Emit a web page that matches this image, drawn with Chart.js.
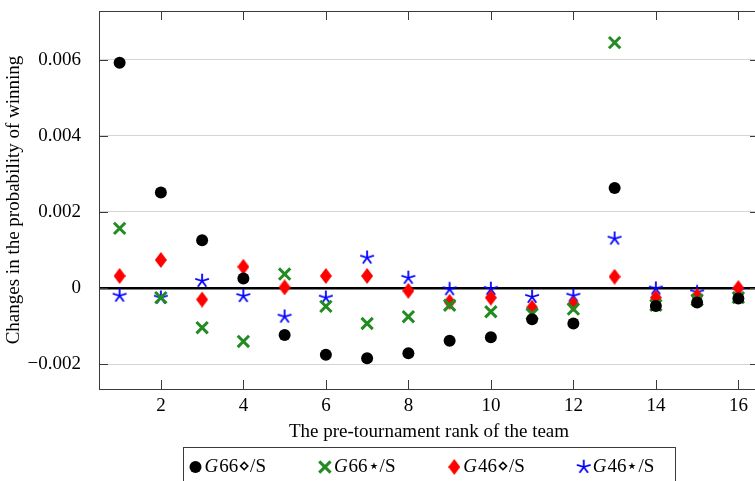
<!DOCTYPE html>
<html>
<head>
<meta charset="utf-8">
<script src="https://cdn.jsdelivr.net/npm/chart.js@4.4.1/dist/chart.umd.min.js"></script>
<style>
  html, body { margin: 0; padding: 0; overflow: hidden; background: #fff; }
  #wrap { width: 770px; height: 481px; }
</style>
</head>
<body>
<div id="wrap"><canvas id="rankChart"></canvas></div>
<script>
// pre-tournament ranks
const ranks = [1, 2, 3, 4, 5, 6, 7, 8, 9, 10, 11, 12, 13, 14, 15, 16];

// changes in the probability of winning
const g66Diamond = [0.00592, 0.00251, 0.00126, 0.00025, -0.00123, -0.00175, -0.00184, -0.00171,
  -0.00138, -0.00129, -0.00082, -0.00093, 0.00263, -0.00047, -0.00038, -0.00027];
const g66Star = [0.00157, -0.00025, -0.00104, -0.0014, 0.00037, -0.00048, -0.00093, -0.00075,
  -0.00045, -0.00062, -0.00068, -0.00055, 0.00645, -0.00045, -0.00031, -0.00025];
const g46Diamond = [0.00032, 0.00074, -0.0003, 0.00056, 0.00002, 0.00032, 0.00032, -0.00007,
  -0.00036, -0.00025, -0.00051, -0.00042, 0.0003, -0.00025, -0.00021, 0.0];
const g46Star = [-0.0002, -0.00025, 0.00019, -0.00021, -0.00075, -0.00025, 0.0008, 0.00027,
  -0.00003, -0.00002, -0.00023, -0.0002, 0.0013, -0.00001, -0.00011, -0.00005];

const seriesNames = ['66\u22C4/S', '66\u22C6/S', '46\u22C4/S', '46\u22C6/S'];

const xTicks = [2, 4, 6, 8, 10, 12, 14, 16];
const yTicks = [-0.002, 0, 0.002, 0.004, 0.006];

const serif = "'Liberation Serif', 'DejaVu Serif', serif";

// marker shapes that Chart.js does not have
function diamondMark(color) {
  const c = document.createElement('canvas');
  c.width = 12; c.height = 16;
  const g = c.getContext('2d');
  g.fillStyle = color;
  g.beginPath();
  g.moveTo(6, 0); g.lineTo(12, 8); g.lineTo(6, 16); g.lineTo(0, 8);
  g.closePath();
  g.fill();
  return c;
}

function starMark(color) {
  const c = document.createElement('canvas');
  c.width = 16; c.height = 16;
  const g = c.getContext('2d');
  g.strokeStyle = color;
  g.lineWidth = 1.8;
  g.beginPath();
  for (let i = 0; i < 5; i++) {
    const a = -Math.PI / 2 + i * 2 * Math.PI / 5;
    g.moveTo(8, 8);
    g.lineTo(8 + 7.2 * Math.cos(a), 8 + 7.2 * Math.sin(a));
  }
  g.stroke();
  return c;
}

function toPoints(values) {
  return ranks.map((r, i) => ({ x: r, y: values[i] }));
}

const datasets = [
  { label: seriesNames[0], data: toPoints(g66Diamond), pointStyle: 'circle', pointRadius: 6,
    backgroundColor: '#000', borderColor: '#000', borderWidth: 0 },
  { label: seriesNames[1], data: toPoints(g66Star), pointStyle: 'crossRot', pointRadius: 8,
    backgroundColor: '#228b22', borderColor: '#228b22', borderWidth: 3 },
  { label: seriesNames[2], data: toPoints(g46Diamond), pointStyle: diamondMark('#ff0000'), pointRadius: 7,
    backgroundColor: '#ff0000', borderColor: '#ff0000' },
  { label: seriesNames[3], data: toPoints(g46Star), pointStyle: starMark('#0000ff'), pointRadius: 7,
    backgroundColor: '#0000ff', borderColor: '#0000ff' }
];

// axis box with inward ticks, like the pgfplots original
const framePlugin = {
  id: 'frame',
  afterDatasetsDraw(chart) {
    const { ctx, chartArea: a, scales } = chart;
    ctx.save();
    ctx.strokeStyle = '#3a3a3a';
    ctx.lineWidth = 1;
    ctx.beginPath();
    xTicks.forEach(v => {
      const px = Math.round(scales.x.getPixelForValue(v)) + 0.5;
      ctx.moveTo(px, a.top); ctx.lineTo(px, a.top + 9);
      ctx.moveTo(px, a.bottom); ctx.lineTo(px, a.bottom - 9);
    });
    yTicks.forEach(v => {
      const py = Math.round(scales.y.getPixelForValue(v)) + 0.5;
      ctx.moveTo(a.left, py); ctx.lineTo(a.left + 9, py);
      ctx.moveTo(a.right, py); ctx.lineTo(a.right - 9, py);
    });
    ctx.stroke();
    ctx.strokeRect(Math.round(a.left) + 0.5, Math.round(a.top) + 0.5,
      Math.round(a.right - a.left), Math.round(a.bottom - a.top));
    ctx.restore();
  }
};

// boxed legend below the axis title
const legendPlugin = {
  id: 'boxLegend',
  afterDraw(chart) {
    const { ctx, chartArea: a } = chart;
    const mid = (a.left + a.right) / 2;
    const left = Math.round(mid - 246) + 0.5;
    const top = Math.round(a.bottom + 58) + 0.5;
    const cy = top + 19.5;
    ctx.save();
    ctx.strokeStyle = '#3a3a3a';
    ctx.lineWidth = 1;
    ctx.strokeRect(left, top, 492, 50);
    ctx.textBaseline = 'middle';
    chart.data.datasets.forEach((ds, i) => {
      const mx = left + 12 + i * 129.4;
      const style = ds.pointStyle;
      if (typeof style === 'object') {
        ctx.drawImage(style, mx - style.width / 2, cy - style.height / 2);
      } else {
        ctx.fillStyle = ds.backgroundColor;
        ctx.strokeStyle = ds.borderColor;
        ctx.lineWidth = ds.borderWidth || 1;
        ctx.beginPath();
        if (style === 'circle') {
          ctx.arc(mx, cy, ds.pointRadius, 0, Math.PI * 2);
          ctx.fill();
        } else {
          const d = ds.pointRadius * Math.SQRT1_2;
          ctx.moveTo(mx - d, cy - d); ctx.lineTo(mx + d, cy + d);
          ctx.moveTo(mx - d, cy + d); ctx.lineTo(mx + d, cy - d);
          ctx.stroke();
        }
      }
      ctx.fillStyle = '#000';
      ctx.font = 'italic 19px ' + serif;
      const tx = mx + 9;
      ctx.fillText('G', tx, cy);
      const gw = ctx.measureText('G').width;
      ctx.font = '19px ' + serif;
      ctx.fillText(ds.label, tx + gw + 1, cy);
    });
    ctx.restore();
  }
};

const ctx1 = document.getElementById('rankChart').getContext('2d');
const rankChart = new Chart(ctx1, {
  type: 'scatter',
  data: { datasets: datasets },
  options: {
    responsive: true,
    maintainAspectRatio: false,
    animation: false,
    events: [],
    layout: { padding: { top: 11, right: 7, left: 0, bottom: 0 } },
    plugins: {
      legend: { display: false },
      tooltip: { enabled: false }
    },
    scales: {
      x: {
        type: 'linear',
        min: 0.5,
        max: 16.5,
        afterBuildTicks: scale => { scale.ticks = xTicks.map(v => ({ value: v })); },
        afterFit: scale => {
          scale.height = 92;
          scale.paddingLeft = 0;
          scale.paddingRight = 0;
        },
        grid: { display: false, drawTicks: false },
        border: { display: false },
        ticks: {
          padding: 6,
          color: '#000',
          font: { family: serif, size: 19 },
          callback: v => String(v)
        },
        title: {
          display: true,
          text: 'The pre-tournament rank of the team',
          color: '#000',
          font: { family: serif, size: 19 },
          padding: { top: 37.6, bottom: 37.6 }
        }
      },
      y: {
        min: -0.00265,
        max: 0.00728,
        afterBuildTicks: scale => { scale.ticks = yTicks.map(v => ({ value: v })); },
        afterFit: scale => {
          scale.width = 99;
          scale.paddingTop = 0;
          scale.paddingBottom = 0;
        },
        grid: {
          drawTicks: false,
          color: c => (c.tick && c.tick.value === 0 ? '#000' : '#d4d4d4'),
          lineWidth: c => (c.tick && c.tick.value === 0 ? 2.6 : 1)
        },
        border: { display: false },
        ticks: {
          padding: 18,
          color: '#000',
          font: { family: serif, size: 19 },
          callback: v => (Math.abs(v) < 1e-12 ? '0' : v.toFixed(3).replace('-', '\u2212'))
        },
        title: {
          display: true,
          text: 'Changes in the probability of winning',
          color: '#000',
          font: { family: serif, size: 19 },
          padding: { top: 2.6, bottom: 2.6 }
        }
      }
    }
  },
  plugins: [framePlugin, legendPlugin]
});
</script>
</body>
</html>
